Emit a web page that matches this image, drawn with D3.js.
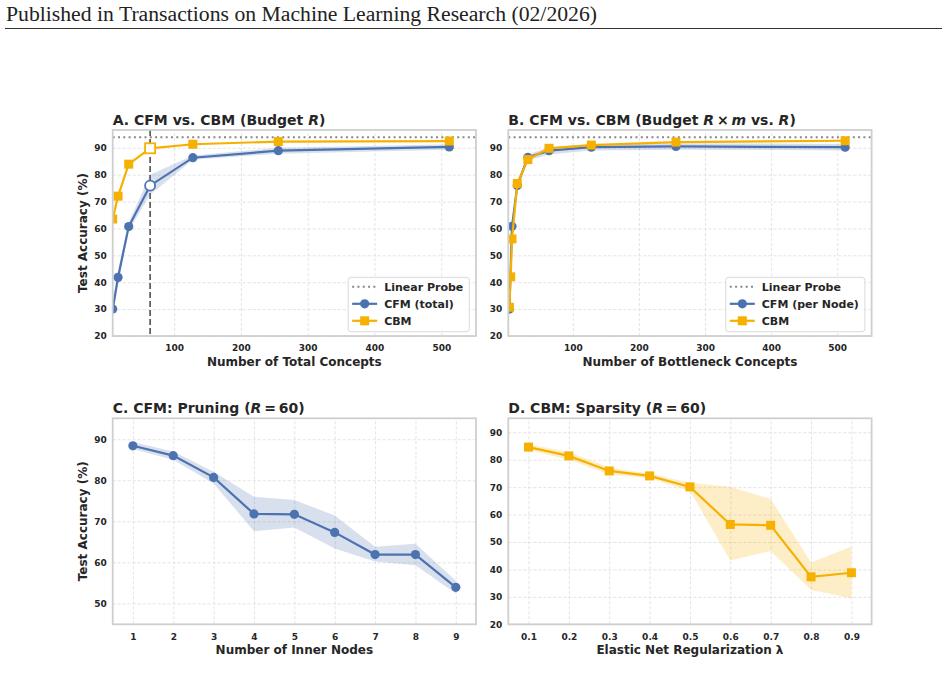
<!DOCTYPE html>
<html>
<head>
<meta charset="utf-8" />
<style>
    body {
        margin: 0;
        background: #fff;
    }

    text {
        font-family: "DejaVu Sans", sans-serif;
        fill: #262626;
    }

    .tick text {
        font-size: 9px;
        font-weight: bold;
    }

    .grid line {
        stroke: #e0e0e0;
        stroke-dasharray: 3, 2;
        stroke-width: 0.9;
    }

    .title {
        font-size: 14px;
        font-weight: bold;
    }

    .axis-label {
        font-size: 12px;
        font-weight: bold;
    }

    .legend text {
        font-size: 11px;
        font-weight: bold;
    }
</style>
</head>

<body>
<svg width="948" height="681"></svg>
<script src="https://d3js.org/d3.v7.min.js"></script>
<script>

    // Panel A: budget R (total concepts)
    var conceptsA = [8, 16, 32, 64, 128, 256, 512];
    var cfmTotal = [30, 41.8, 60.7, 75.9, 86.3, 88.9, 90.3];
    var cfmTotalLo = [27.5, 39.2, 59.2, 72.5, 85.5, 87.8, 89.3];
    var cfmTotalHi = [32.5, 44.5, 62.3, 80, 87.1, 90, 91.3];
    var cbmA = [63.5, 72, 83.9, 89.8, 91.3, 92.3, 92.5];

    // Panel B: budget R x m vs R (bottleneck concepts)
    var conceptsCfmB = [4, 8, 16, 32, 64, 128, 256, 512];
    var cfmPerNode = [30, 60.8, 76, 86.4, 88.9, 90.2, 90.5, 90.2];
    var cfmPerNodeLo = [28, 59, 74.5, 85.3, 87.5, 89, 89.3, 89];
    var cfmPerNodeHi = [32, 62.5, 77.5, 87.5, 90.3, 91.4, 91.7, 91.4];
    var conceptsCbmB = [4, 6, 8, 16, 32, 64, 128, 256, 512];
    var cbmB = [30.7, 42, 56.1, 76.7, 85.6, 89.8, 91, 92.1, 92.6];

    var linearProbe = 93.9;

    // Panel C: pruning
    var innerNodes = [1, 2, 3, 4, 5, 6, 7, 8, 9];
    var pruneAcc = [88.4, 86, 80.7, 71.8, 71.7, 67.3, 61.9, 61.9, 53.9];
    var pruneLo = [87.6, 85, 79.2, 67.6, 68.5, 63.4, 60.2, 59.3, 52.4];
    var pruneHi = [89.3, 87, 82.1, 76, 75.2, 71.4, 63.8, 64.5, 55.5];

    // Panel D: sparsity
    var lambdas = [0.1, 0.2, 0.3, 0.4, 0.5, 0.6, 0.7, 0.8, 0.9];
    var sparseAcc = [84.6, 81.4, 75.9, 74.1, 70.1, 56.4, 56.1, 37.3, 38.8];
    var sparseLo = [83.5, 80, 74.6, 73.2, 68.6, 43.3, 46.7, 32.5, 29.5];
    var sparseHi = [85.6, 82.8, 77.2, 74.9, 71.6, 70.1, 65.7, 42.5, 48.4];

    var blue = "#4c72b0";
    var orange = "#f6b000";

    var svg = d3.select("svg");
    svg.append("rect").attr("width", 948).attr("height", 681).attr("fill", "#fff");

    // page header
    svg.append("text")
        .attr("x", 6)
        .attr("y", 21)
        .attr("textLength", 591)
        .attr("lengthAdjust", "spacingAndGlyphs")
        .style("font-family", "'Liberation Serif', serif")
        .style("font-size", "20px")
        .style("fill", "#222")
        .text("Published in Transactions on Machine Learning Research (02/2026)");
    svg.append("line")
        .attr("x1", 5).attr("x2", 942)
        .attr("y1", 28.5).attr("y2", 28.5)
        .attr("stroke", "#333")
        .attr("stroke-width", 1.2);

    var pw = 363.3, ph = 206;

    function drawPanel(cfg) {
        var g = svg.append("g").attr("transform", "translate(" + cfg.left + "," + cfg.top + ")");
        var x = d3.scaleLinear().domain(cfg.xDomain).range([0, pw]);
        var y = d3.scaleLinear().domain(cfg.yDomain).range([ph, 0]);

        g.append("clipPath").attr("id", "clip" + cfg.id)
            .append("rect").attr("width", pw).attr("height", ph);

        // grid
        g.append("g").attr("class", "grid")
            .attr("transform", "translate(0," + ph + ")")
            .call(d3.axisBottom(x).tickValues(cfg.xTicks).tickSize(-ph).tickFormat(""))
            .call(a => a.select(".domain").remove());
        g.append("g").attr("class", "grid")
            .call(d3.axisLeft(y).tickValues(cfg.yTicks).tickSize(-pw).tickFormat(""))
            .call(a => a.select(".domain").remove());

        // tick labels
        g.append("g")
            .attr("transform", "translate(0," + ph + ")")
            .call(d3.axisBottom(x).tickValues(cfg.xTicks).tickSize(0).tickPadding(9).tickFormat(cfg.xFormat || d3.format("d")))
            .call(a => a.select(".domain").remove());
        g.append("g")
            .call(d3.axisLeft(y).tickValues(cfg.yTicks).tickSize(0).tickPadding(6).tickFormat(d3.format("d")))
            .call(a => a.select(".domain").remove());

        var plot = g.append("g").attr("clip-path", "url(#clip" + cfg.id + ")");

        if (cfg.probe) {
            plot.append("line")
                .attr("x1", 0).attr("x2", pw)
                .attr("y1", y(linearProbe)).attr("y2", y(linearProbe))
                .attr("stroke", "#888")
                .attr("stroke-width", 2)
                .attr("stroke-dasharray", "2,3.3");
        }
        if (cfg.vline) {
            plot.append("line")
                .attr("x1", x(cfg.vline)).attr("x2", x(cfg.vline))
                .attr("y1", 0).attr("y2", ph)
                .attr("stroke", "#444")
                .attr("stroke-width", 1.5)
                .attr("stroke-dasharray", "6,3");
        }

        // shaded bands first, then lines and markers on top
        cfg.series.forEach(function (s) {
            if (!s.lo) return;
            var pts = s.x.map(function (v, i) { return { x: v, lo: s.lo[i], hi: s.hi[i] }; });
            plot.append("path")
                .datum(pts)
                .attr("fill", s.color)
                .attr("fill-opacity", 0.22)
                .attr("d", d3.area().x(d => x(d.x)).y0(d => y(d.lo)).y1(d => y(d.hi)));
        });

        cfg.series.forEach(function (s) {
            var pts = s.x.map(function (v, i) { return { x: v, y: s.y[i] }; });
            plot.append("path")
                .datum(pts)
                .attr("fill", "none")
                .attr("stroke", s.color)
                .attr("stroke-width", 2.2)
                .attr("d", d3.line().x(d => x(d.x)).y(d => y(d.y)));
            pts.forEach(function (d) {
                var hollow = cfg.vline && d.x == cfg.vline;
                drawMarker(plot, s.marker, x(d.x), y(d.y), s.color, hollow);
            });
        });

        // frame
        g.append("rect")
            .attr("width", pw).attr("height", ph)
            .attr("fill", "none")
            .attr("stroke", "#cfcfcf")
            .attr("stroke-width", 1.8);

        // title with italic parts
        var t = g.append("text").attr("class", "title").attr("x", 0).attr("y", -5);
        cfg.title.forEach(function (part) {
            t.append("tspan").style("font-style", part[1] ? "italic" : "normal").text(part[0]);
        });

        g.append("text")
            .attr("class", "axis-label")
            .attr("x", pw / 2)
            .attr("y", ph + 30)
            .style("text-anchor", "middle")
            .text(cfg.xLabel);

        if (cfg.yLabel) {
            g.append("text")
                .attr("class", "axis-label")
                .attr("transform", "rotate(-90)")
                .attr("x", -ph / 2)
                .attr("y", -26)
                .style("text-anchor", "middle")
                .text(cfg.yLabel);
        }

        if (cfg.legend) drawLegend(g, cfg.legend);
    }

    function drawMarker(parent, type, cx, cy, color, hollow) {
        if (type == "circle") {
            parent.append("circle")
                .attr("cx", cx).attr("cy", cy)
                .attr("r", hollow ? 5 : 4.6)
                .attr("fill", hollow ? "#fff" : color)
                .attr("stroke", hollow ? color : "none")
                .attr("stroke-width", 1.8);
        } else {
            var s = hollow ? 10 : 9;
            parent.append("rect")
                .attr("x", cx - s / 2).attr("y", cy - s / 2)
                .attr("width", s).attr("height", s)
                .attr("fill", hollow ? "#fff" : color)
                .attr("stroke", hollow ? color : "none")
                .attr("stroke-width", 1.8);
        }
    }

    function drawLegend(g, items) {
        var lg = g.append("g").attr("class", "legend");
        var box = lg.append("rect")
            .attr("rx", 3)
            .attr("fill", "#fff")
            .attr("fill-opacity", 0.85)
            .attr("stroke", "#d9d9d9")
            .attr("stroke-width", 1);
        var maxW = 0;
        items.forEach(function (it, i) {
            var cy = 9.5 + i * 17;
            if (it.type == "probe") {
                lg.append("line")
                    .attr("x1", 4).attr("x2", 29)
                    .attr("y1", cy).attr("y2", cy)
                    .attr("stroke", "#888")
                    .attr("stroke-width", 2)
                    .attr("stroke-dasharray", "2,3.3");
            } else {
                lg.append("line")
                    .attr("x1", 4).attr("x2", 29)
                    .attr("y1", cy).attr("y2", cy)
                    .attr("stroke", it.color)
                    .attr("stroke-width", 2.2);
                drawMarker(lg, it.type, 16.5, cy, it.color, false);
            }
            var txt = lg.append("text")
                .attr("x", 36)
                .attr("y", cy + 4)
                .text(it.label);
            maxW = Math.max(maxW, txt.node().getComputedTextLength());
        });
        var bw = 36 + maxW + 6, bh = 54.4;
        box.attr("width", bw).attr("height", bh);
        lg.attr("transform", "translate(" + (pw - 6.7 - bw) + "," + (ph - 4.3 - bh) + ")");
    }

    var accTicks = [20, 30, 40, 50, 60, 70, 80, 90];
    var conceptTicks = [100, 200, 300, 400, 500];

    drawPanel({
        id: "A", left: 112.7, top: 130,
        xDomain: [8, 552], yDomain: [20, 96.6],
        xTicks: conceptTicks, yTicks: accTicks,
        probe: true, vline: 64,
        title: [["A. CFM vs. CBM (Budget ", false], ["R", true], [")", false]],
        xLabel: "Number of Total Concepts",
        yLabel: "Test Accuracy (%)",
        series: [
            { x: conceptsA, y: cfmTotal, lo: cfmTotalLo, hi: cfmTotalHi, color: blue, marker: "circle" },
            { x: conceptsA, y: cbmA, color: orange, marker: "square" }
        ],
        legend: [
            { label: "Linear Probe", type: "probe" },
            { label: "CFM (total)", type: "circle", color: blue },
            { label: "CBM", type: "square", color: orange }
        ]
    });

    drawPanel({
        id: "B", left: 508.3, top: 130,
        xDomain: [2.4, 552], yDomain: [20, 96.6],
        xTicks: conceptTicks, yTicks: accTicks,
        probe: true,
        title: [["B. CFM vs. CBM (Budget ", false], ["R", true], ["\u2009\u00d7\u2009", false], ["m", true], [" vs. ", false], ["R", true], [")", false]],
        xLabel: "Number of Bottleneck Concepts",
        series: [
            { x: conceptsCfmB, y: cfmPerNode, lo: cfmPerNodeLo, hi: cfmPerNodeHi, color: blue, marker: "circle" },
            { x: conceptsCbmB, y: cbmB, color: orange, marker: "square" }
        ],
        legend: [
            { label: "Linear Probe", type: "probe" },
            { label: "CFM (per Node)", type: "circle", color: blue },
            { label: "CBM", type: "square", color: orange }
        ]
    });

    drawPanel({
        id: "C", left: 112.7, top: 418.3,
        xDomain: [0.5, 9.5], yDomain: [44.9, 95.1],
        xTicks: innerNodes, yTicks: [50, 60, 70, 80, 90],
        title: [["C. CFM: Pruning (", false], ["R", true], ["\u2009=\u200960)", false]],
        xLabel: "Number of Inner Nodes",
        yLabel: "Test Accuracy (%)",
        series: [
            { x: innerNodes, y: pruneAcc, lo: pruneLo, hi: pruneHi, color: blue, marker: "circle" }
        ]
    });

    drawPanel({
        id: "D", left: 508.3, top: 418.3,
        xDomain: [0.05, 0.95], yDomain: [20, 95.1],
        xTicks: lambdas, yTicks: accTicks,
        xFormat: d3.format(".1f"),
        title: [["D. CBM: Sparsity (", false], ["R", true], ["\u2009=\u200960)", false]],
        xLabel: "Elastic Net Regularization \u03bb",
        series: [
            { x: lambdas, y: sparseAcc, lo: sparseLo, hi: sparseHi, color: orange, marker: "square" }
        ]
    });

</script>
</body>
</html>
